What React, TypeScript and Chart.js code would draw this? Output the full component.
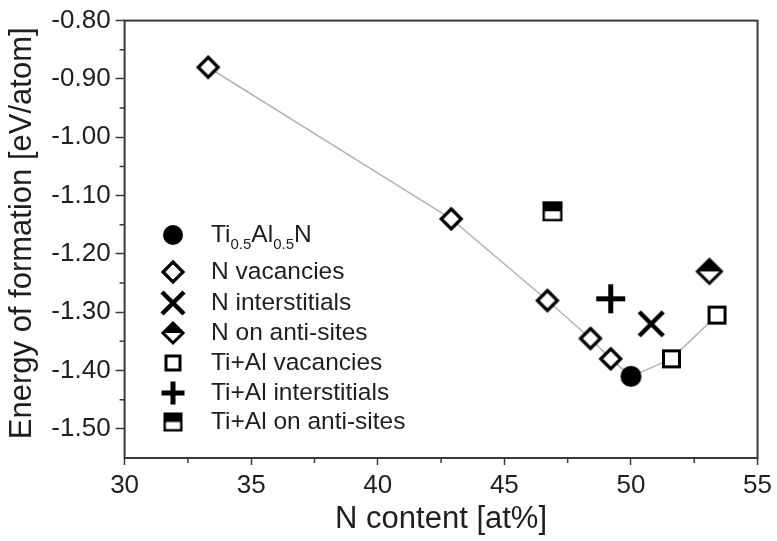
import { useEffect, useRef } from 'react';
import { Chart, registerables } from 'chart.js';

Chart.register(...registerables);

// Axis ticks
const xTicks = [30, 35, 40, 45, 50, 55];
const yTicks = [-1.5, -1.4, -1.3, -1.2, -1.1, -1.0, -0.9, -0.8];

// Formation energies (eV/atom) vs N content (at%)
const tiAlNX = [50.0];
const tiAlNY = [-1.41];
const nVacX = [33.3, 42.9, 46.7, 48.4, 49.2];
const nVacY = [-0.88, -1.14, -1.28, -1.345, -1.38];
const nIntX = [50.8];
const nIntY = [-1.32];
const nAntiX = [53.1];
const nAntiY = [-1.23];
const mVacX = [51.6, 53.4];
const mVacY = [-1.38, -1.305];
const mIntX = [49.2];
const mIntY = [-1.277];
const mAntiX = [46.9];
const mAntiY = [-1.127];

const seriesNames = [
  'Ti0.5Al0.5N',
  'N vacancies',
  'N interstitials',
  'N on anti-sites',
  'Ti+Al vacancies',
  'Ti+Al interstitials',
  'Ti+Al on anti-sites',
];

const FONT = '"Liberation Sans", Arial, Helvetica, sans-serif';
const INK = '#1e1e1e';

type Kind = 'circle' | 'diamond' | 'cross' | 'halfDiamond' | 'square' | 'plus' | 'halfSquare';

// Builds a small canvas holding one marker glyph, used as a point style.
function marker(kind: Kind, r: number): HTMLCanvasElement {
  const s = Math.ceil(r * 2 + 8);
  const c = document.createElement('canvas');
  c.width = s;
  c.height = s;
  const g = c.getContext('2d') as CanvasRenderingContext2D;
  const m = s / 2;
  g.strokeStyle = '#000';
  g.fillStyle = '#000';
  const diamondPath = (h: number) => {
    g.beginPath();
    g.moveTo(m, m - h);
    g.lineTo(m + h, m);
    g.lineTo(m, m + h);
    g.lineTo(m - h, m);
    g.closePath();
  };
  switch (kind) {
    case 'circle':
      g.beginPath();
      g.arc(m, m, r, 0, Math.PI * 2);
      g.fill();
      break;
    case 'diamond': {
      const h = r - 2;
      g.lineWidth = 3.2;
      g.lineJoin = 'miter';
      diamondPath(h);
      g.fillStyle = '#fff';
      g.fill();
      g.stroke();
      break;
    }
    case 'halfDiamond': {
      const h = r - 2;
      g.lineWidth = 3;
      diamondPath(h);
      g.fillStyle = '#fff';
      g.fill();
      g.beginPath();
      g.moveTo(m - h, m);
      g.lineTo(m, m - h);
      g.lineTo(m + h, m);
      g.closePath();
      g.fillStyle = '#000';
      g.fill();
      diamondPath(h);
      g.stroke();
      break;
    }
    case 'square': {
      const h = r - 1.5;
      g.lineWidth = 3;
      g.fillStyle = '#fff';
      g.fillRect(m - h, m - h, 2 * h, 2 * h);
      g.strokeRect(m - h, m - h, 2 * h, 2 * h);
      break;
    }
    case 'halfSquare': {
      const h = r - 1.2;
      g.lineWidth = 2.4;
      g.fillStyle = '#fff';
      g.fillRect(m - h, m - h, 2 * h, 2 * h);
      g.fillStyle = '#000';
      g.fillRect(m - h, m - h, 2 * h, h);
      g.strokeRect(m - h, m - h, 2 * h, 2 * h);
      break;
    }
    case 'cross':
      g.lineWidth = 4.5;
      g.beginPath();
      g.moveTo(m - r, m - r);
      g.lineTo(m + r, m + r);
      g.moveTo(m + r, m - r);
      g.lineTo(m - r, m + r);
      g.stroke();
      break;
    case 'plus':
      g.lineWidth = 5;
      g.beginPath();
      g.moveTo(m - r, m);
      g.lineTo(m + r, m);
      g.moveTo(m, m - r);
      g.lineTo(m, m + r);
      g.stroke();
      break;
  }
  return c;
}

const kinds: Kind[] = ['circle', 'diamond', 'cross', 'halfDiamond', 'square', 'plus', 'halfSquare'];
const chartSizes = [10.5, 12, 12, 14, 9.5, 14.5, 10];
const legendSizes = [10, 12, 11, 12, 8.5, 11.5, 9.5];

const pts = (xs: number[], ys: number[]) => xs.map((x, i) => ({ x, y: ys[i] }));

export default function App() {
  const ref = useRef<HTMLCanvasElement | null>(null);

  useEffect(() => {
    const canvas = ref.current;
    if (!canvas) return;
    const chartMarkers = kinds.map((k, i) => marker(k, chartSizes[i]));
    const legendMarkers = kinds.map((k, i) => marker(k, legendSizes[i]));

    const series = [
      pts(tiAlNX, tiAlNY),
      pts(nVacX, nVacY),
      pts(nIntX, nIntY),
      pts(nAntiX, nAntiY),
      pts(mVacX, mVacY),
      pts(mIntX, mIntY),
      pts(mAntiX, mAntiY),
    ];

    // Guide line through the N-vacancy series, the stoichiometric point and the metal vacancies
    const guide = [...pts(nVacX, nVacY), ...pts(tiAlNX, tiAlNY), ...pts(mVacX, mVacY)];

    const frame = {
      id: 'frame',
      afterDraw(chart: any) {
        const { ctx, chartArea: a, scales } = chart;
        const xs = scales.x;
        const ys = scales.y;
        ctx.save();
        // box
        ctx.strokeStyle = '#3a3a3a';
        ctx.lineWidth = 2;
        ctx.strokeRect(a.left, a.top, a.right - a.left, a.bottom - a.top);
        // minor ticks halfway between labelled ticks
        ctx.lineWidth = 1.5;
        ctx.beginPath();
        for (let i = 0; i < xTicks.length - 1; i++) {
          const px = xs.getPixelForValue((xTicks[i] + xTicks[i + 1]) / 2);
          ctx.moveTo(px, a.bottom);
          ctx.lineTo(px, a.bottom + 5);
        }
        for (let i = 0; i < yTicks.length - 1; i++) {
          const py = ys.getPixelForValue((yTicks[i] + yTicks[i + 1]) / 2);
          ctx.moveTo(a.left, py);
          ctx.lineTo(a.left - 5, py);
        }
        ctx.stroke();

        // axis titles
        ctx.fillStyle = INK;
        ctx.font = `31px ${FONT}`;
        ctx.textAlign = 'center';
        ctx.textBaseline = 'alphabetic';
        ctx.fillText('N content [at%]', (a.left + a.right) / 2, 528);
        ctx.save();
        ctx.translate(31, (a.top + a.bottom) / 2 - 6);
        ctx.rotate(-Math.PI / 2);
        ctx.fillText('Energy of formation [eV/atom]', 0, 0);
        ctx.restore();

        // legend
        const mx = 173;
        const tx = 211;
        const rowY = [235, 272, 303, 333, 363, 393, 422];
        ctx.textAlign = 'left';
        ctx.textBaseline = 'middle';
        for (let i = 0; i < seriesNames.length; i++) {
          const img = legendMarkers[i];
          ctx.drawImage(img, mx - img.width / 2, rowY[i] - img.height / 2);
          ctx.font = `24.5px ${FONT}`;
          if (i === 0) {
            // Ti0.5Al0.5N with subscripts
            const parts: [string, boolean][] = [['Ti', false], ['0.5', true], ['Al', false], ['0.5', true], ['N', false]];
            let cx = tx;
            for (const [t, sub] of parts) {
              ctx.font = sub ? `15px ${FONT}` : `24.5px ${FONT}`;
              ctx.fillText(t, cx, rowY[i] + (sub ? 10 : 0));
              cx += ctx.measureText(t).width + (sub ? 0 : 0);
            }
          } else {
            ctx.fillText(seriesNames[i], tx, rowY[i]);
          }
        }
        ctx.restore();
      },
    };

    const chart = new Chart(canvas, {
      type: 'scatter',
      data: {
        datasets: [
          ...series.map((d, i) => ({
            label: seriesNames[i],
            data: d,
            pointStyle: chartMarkers[i] as any,
            pointRadius: 10,
            showLine: false,
            order: i,
          })),
          {
            label: 'guide',
            data: guide,
            showLine: true,
            borderColor: '#b4b4b4',
            borderWidth: 1.5,
            pointRadius: 0,
            order: 20,
          },
        ],
      },
      options: {
        responsive: false,
        animation: false,
        devicePixelRatio: 1,
        layout: { padding: { top: 20, right: 17.7, left: 0, bottom: 0 } },
        plugins: {
          legend: { display: false },
          tooltip: { enabled: false },
        },
        scales: {
          x: {
            type: 'linear',
            min: 30,
            max: 55,
            afterBuildTicks: (s: any) => {
              s.ticks = xTicks.map((v) => ({ value: v }));
            },
            afterFit: (s: any) => {
              s.height = 83;
            },
            ticks: {
              font: { family: FONT, size: 26 },
              color: INK,
              padding: 5,
              maxRotation: 0,
              autoSkip: false,
            },
            grid: {
              drawOnChartArea: false,
              drawTicks: true,
              tickLength: 7,
              tickColor: '#3a3a3a',
              tickWidth: 1.5,
            },
            border: { display: false },
          },
          y: {
            type: 'linear',
            min: -1.55,
            max: -0.8,
            afterBuildTicks: (s: any) => {
              s.ticks = yTicks.map((v) => ({ value: v }));
            },
            afterFit: (s: any) => {
              s.width = 124.6;
            },
            ticks: {
              font: { family: FONT, size: 26 },
              color: INK,
              padding: 5,
              autoSkip: false,
              callback: (v: any) => Number(v).toFixed(2),
            },
            grid: {
              drawOnChartArea: false,
              drawTicks: true,
              tickLength: 9,
              tickColor: '#3a3a3a',
              tickWidth: 1.5,
            },
            border: { display: false },
          },
        },
      },
      plugins: [frame],
    });

    return () => chart.destroy();
  }, []);

  return (
    <div style={{ position: 'fixed', left: 0, top: 0, width: 777, height: 541, background: '#fff' }}>
      <canvas ref={ref} width={777} height={541} style={{ display: 'block' }} />
    </div>
  );
}
